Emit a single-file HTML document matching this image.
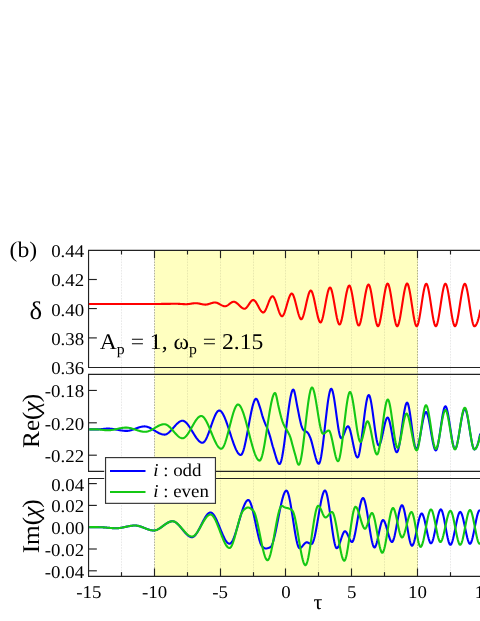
<!DOCTYPE html><html><head><meta charset="utf-8"><style>html,body{margin:0;padding:0;background:#fff;overflow:hidden}svg{display:block}text{font-family:"Liberation Serif",serif;fill:#000;text-rendering:geometricPrecision}</style></head><body>
<svg width="480" height="621" viewBox="0 0 480 621">
<rect x="0" y="0" width="480" height="621" fill="#fff"/>
<rect x="154.6" y="250.3" width="263.3" height="326.1" fill="#ffffc0"/>
<line x1="121.5" y1="250.3" x2="121.5" y2="576.35" stroke="#000" stroke-opacity="0.085" stroke-width="1" stroke-dasharray="1.7,1.1"/>
<line x1="154.5" y1="250.3" x2="154.5" y2="576.35" stroke="#000" stroke-opacity="0.3" stroke-width="1" stroke-dasharray="1.7,1.1"/>
<line x1="187.5" y1="250.3" x2="187.5" y2="576.35" stroke="#000" stroke-opacity="0.085" stroke-width="1" stroke-dasharray="1.7,1.1"/>
<line x1="220.5" y1="250.3" x2="220.5" y2="576.35" stroke="#000" stroke-opacity="0.085" stroke-width="1" stroke-dasharray="1.7,1.1"/>
<line x1="253.5" y1="250.3" x2="253.5" y2="576.35" stroke="#000" stroke-opacity="0.085" stroke-width="1" stroke-dasharray="1.7,1.1"/>
<line x1="285.5" y1="250.3" x2="285.5" y2="576.35" stroke="#000" stroke-opacity="0.085" stroke-width="1" stroke-dasharray="1.7,1.1"/>
<line x1="318.5" y1="250.3" x2="318.5" y2="576.35" stroke="#000" stroke-opacity="0.085" stroke-width="1" stroke-dasharray="1.7,1.1"/>
<line x1="351.5" y1="250.3" x2="351.5" y2="576.35" stroke="#000" stroke-opacity="0.085" stroke-width="1" stroke-dasharray="1.7,1.1"/>
<line x1="384.5" y1="250.3" x2="384.5" y2="576.35" stroke="#000" stroke-opacity="0.085" stroke-width="1" stroke-dasharray="1.7,1.1"/>
<line x1="417.5" y1="250.3" x2="417.5" y2="576.35" stroke="#000" stroke-opacity="0.3" stroke-width="1" stroke-dasharray="1.7,1.1"/>
<line x1="450.5" y1="250.3" x2="450.5" y2="576.35" stroke="#000" stroke-opacity="0.085" stroke-width="1" stroke-dasharray="1.7,1.1"/>
<g stroke="#222" stroke-width="1.15" fill="none">
<path d="M482,250.3 L88.55,250.3 L88.55,367.5 L482,367.5"/>
<path d="M482,374.35 L88.55,374.35 L88.55,471.4 L482,471.4"/>
<path d="M482,478.5 L88.55,478.5 L88.55,576.35 L482,576.35"/>
<line x1="88.55" y1="279.5" x2="96.85" y2="279.5"/>
<line x1="88.55" y1="308.55" x2="96.85" y2="308.55"/>
<line x1="88.55" y1="337.9" x2="96.85" y2="337.9"/>
<line x1="88.55" y1="390.45" x2="96.85" y2="390.45"/>
<line x1="88.55" y1="422.8" x2="96.85" y2="422.8"/>
<line x1="88.55" y1="455.2" x2="96.85" y2="455.2"/>
<line x1="88.55" y1="483.6" x2="96.85" y2="483.6"/>
<line x1="88.55" y1="505.4" x2="96.85" y2="505.4"/>
<line x1="88.55" y1="527.2" x2="96.85" y2="527.2"/>
<line x1="88.55" y1="549.0" x2="96.85" y2="549.0"/>
<line x1="88.55" y1="570.8" x2="96.85" y2="570.8"/>
<line x1="121.5" y1="250.3" x2="121.5" y2="254.5"/>
<line x1="121.5" y1="576.35" x2="121.5" y2="572.15"/>
<line x1="154.5" y1="250.3" x2="154.5" y2="258.2"/>
<line x1="154.5" y1="576.35" x2="154.5" y2="568.45"/>
<line x1="187.5" y1="250.3" x2="187.5" y2="254.5"/>
<line x1="187.5" y1="576.35" x2="187.5" y2="572.15"/>
<line x1="220.5" y1="250.3" x2="220.5" y2="258.2"/>
<line x1="220.5" y1="576.35" x2="220.5" y2="568.45"/>
<line x1="253.5" y1="250.3" x2="253.5" y2="254.5"/>
<line x1="253.5" y1="576.35" x2="253.5" y2="572.15"/>
<line x1="285.5" y1="250.3" x2="285.5" y2="258.2"/>
<line x1="285.5" y1="576.35" x2="285.5" y2="568.45"/>
<line x1="318.5" y1="250.3" x2="318.5" y2="254.5"/>
<line x1="318.5" y1="576.35" x2="318.5" y2="572.15"/>
<line x1="351.5" y1="250.3" x2="351.5" y2="258.2"/>
<line x1="351.5" y1="576.35" x2="351.5" y2="568.45"/>
<line x1="384.5" y1="250.3" x2="384.5" y2="254.5"/>
<line x1="384.5" y1="576.35" x2="384.5" y2="572.15"/>
<line x1="417.5" y1="250.3" x2="417.5" y2="258.2"/>
<line x1="417.5" y1="576.35" x2="417.5" y2="568.45"/>
<line x1="450.5" y1="250.3" x2="450.5" y2="254.5"/>
<line x1="450.5" y1="576.35" x2="450.5" y2="572.15"/>
</g>
<g fill="none" stroke-width="2.1" stroke-linejoin="round" stroke-linecap="butt">
<path d="M88.9,304.00 L89.4,304.00 L89.9,304.00 L90.4,304.00 L90.9,304.00 L91.4,304.00 L91.9,304.00 L92.4,304.00 L92.9,304.00 L93.4,304.00 L93.9,304.00 L94.4,304.00 L94.9,304.00 L95.4,304.00 L95.9,304.00 L96.4,304.00 L96.9,304.00 L97.4,304.00 L97.9,304.00 L98.4,304.00 L98.9,304.00 L99.4,304.00 L99.9,304.00 L100.4,304.00 L100.9,304.00 L101.4,304.00 L101.9,304.00 L102.4,304.00 L102.9,304.00 L103.4,304.00 L103.9,304.00 L104.4,304.00 L104.9,304.00 L105.4,304.00 L105.9,304.00 L106.4,304.00 L106.9,304.00 L107.4,304.00 L107.9,304.00 L108.4,304.00 L108.9,304.00 L109.4,304.00 L109.9,304.00 L110.4,304.00 L110.9,304.00 L111.4,304.00 L111.9,304.00 L112.4,304.00 L112.9,304.00 L113.4,304.00 L113.9,304.00 L114.4,304.00 L114.9,304.00 L115.4,304.00 L115.9,304.00 L116.4,304.00 L116.9,304.00 L117.4,304.00 L117.9,304.00 L118.4,304.00 L118.9,304.00 L119.4,304.00 L119.9,304.00 L120.4,304.00 L120.9,304.00 L121.4,304.00 L121.9,304.00 L122.4,304.00 L122.9,304.00 L123.4,304.00 L123.9,304.00 L124.4,304.00 L124.9,304.00 L125.4,304.00 L125.9,304.00 L126.4,304.00 L126.9,304.00 L127.4,304.00 L127.9,304.00 L128.4,304.00 L128.9,304.00 L129.4,304.00 L129.9,304.00 L130.4,304.00 L130.9,304.00 L131.4,304.00 L131.9,304.00 L132.4,304.00 L132.9,304.00 L133.4,304.00 L133.9,304.00 L134.4,304.00 L134.9,304.00 L135.4,304.00 L135.9,304.00 L136.4,304.00 L136.9,304.00 L137.4,304.00 L137.9,304.00 L138.4,304.00 L138.9,304.00 L139.4,304.00 L139.9,304.00 L140.4,304.00 L140.9,304.00 L141.4,304.00 L141.9,304.00 L142.4,304.00 L142.9,304.00 L143.4,304.00 L143.9,304.00 L144.4,304.00 L144.9,304.00 L145.4,304.00 L145.9,304.00 L146.4,304.00 L146.9,304.00 L147.4,304.00 L147.9,304.00 L148.4,304.00 L148.9,304.00 L149.4,304.00 L149.9,304.00 L150.4,304.00 L150.9,304.00 L151.4,304.00 L151.9,304.00 L152.4,304.00 L152.9,303.99 L153.4,303.99 L153.9,303.99 L154.4,303.99 L154.9,303.98 L155.4,303.98 L155.9,303.97 L156.4,303.97 L156.9,303.97 L157.4,303.96 L157.9,303.96 L158.4,303.95 L158.9,303.95 L159.4,303.94 L159.9,303.94 L160.4,303.93 L160.9,303.93 L161.4,303.92 L161.9,303.92 L162.4,303.91 L162.9,303.90 L163.4,303.90 L163.9,303.89 L164.4,303.89 L164.9,303.88 L165.4,303.88 L165.9,303.87 L166.4,303.87 L166.9,303.86 L167.4,303.85 L167.9,303.85 L168.4,303.84 L168.9,303.84 L169.4,303.84 L169.9,303.83 L170.4,303.83 L170.9,303.82 L171.4,303.82 L171.9,303.82 L172.4,303.81 L172.9,303.81 L173.4,303.81 L173.9,303.81 L174.4,303.80 L174.9,303.80 L175.4,303.80 L175.9,303.80 L176.4,303.80 L176.9,303.80 L177.4,303.81 L177.9,303.82 L178.4,303.84 L178.9,303.86 L179.4,303.89 L179.9,303.92 L180.4,303.95 L180.9,303.98 L181.4,304.01 L181.9,304.04 L182.4,304.07 L182.9,304.10 L183.4,304.13 L183.9,304.15 L184.4,304.17 L184.9,304.19 L185.4,304.20 L185.9,304.20 L186.4,304.20 L186.9,304.18 L187.4,304.14 L187.9,304.10 L188.4,304.05 L188.9,303.99 L189.4,303.92 L189.9,303.85 L190.4,303.77 L190.9,303.70 L191.4,303.62 L191.9,303.54 L192.4,303.47 L192.9,303.41 L193.4,303.35 L193.9,303.29 L194.4,303.25 L194.9,303.22 L195.4,303.20 L195.9,303.20 L196.4,303.22 L196.9,303.25 L197.4,303.31 L197.9,303.37 L198.4,303.45 L198.9,303.54 L199.4,303.64 L199.9,303.74 L200.4,303.85 L200.9,303.96 L201.4,304.07 L201.9,304.17 L202.4,304.27 L202.9,304.35 L203.4,304.43 L203.9,304.50 L204.4,304.55 L204.9,304.58 L205.4,304.60 L205.9,304.59 L206.4,304.55 L206.9,304.48 L207.4,304.38 L207.9,304.27 L208.4,304.13 L208.9,303.99 L209.4,303.83 L209.9,303.67 L210.4,303.50 L210.9,303.34 L211.4,303.18 L211.9,303.02 L212.4,302.89 L212.9,302.76 L213.4,302.66 L213.9,302.58 L214.4,302.52 L214.9,302.50 L215.4,302.52 L215.9,302.59 L216.4,302.70 L216.9,302.85 L217.4,303.04 L217.9,303.26 L218.4,303.51 L218.9,303.77 L219.4,304.04 L219.9,304.32 L220.4,304.60 L220.9,304.88 L221.4,305.14 L221.9,305.39 L222.4,305.62 L222.9,305.82 L223.4,305.99 L223.9,306.12 L224.4,306.21 L224.9,306.25 L225.4,306.22 L225.9,306.12 L226.4,305.94 L226.9,305.71 L227.4,305.42 L227.9,305.09 L228.4,304.74 L228.9,304.36 L229.4,303.98 L229.9,303.60 L230.4,303.22 L230.9,302.87 L231.4,302.55 L231.9,302.27 L232.4,302.04 L232.9,301.87 L233.4,301.77 L233.9,301.75 L234.4,301.82 L234.9,301.97 L235.4,302.19 L235.9,302.48 L236.4,302.82 L236.9,303.20 L237.4,303.62 L237.9,304.07 L238.4,304.55 L238.9,305.03 L239.4,305.52 L239.9,306.00 L240.4,306.47 L240.9,306.92 L241.4,307.34 L241.9,307.72 L242.4,308.05 L242.9,308.33 L243.4,308.55 L243.9,308.69 L244.4,308.75 L244.9,308.70 L245.4,308.49 L245.9,308.15 L246.4,307.69 L246.9,307.14 L247.4,306.50 L247.9,305.81 L248.4,305.08 L248.9,304.34 L249.4,303.59 L249.9,302.87 L250.4,302.18 L250.9,301.55 L251.4,301.01 L251.9,300.56 L252.4,300.23 L252.9,300.04 L253.4,300.01 L253.9,300.15 L254.4,300.46 L254.9,300.91 L255.4,301.48 L255.9,302.17 L256.4,302.94 L256.9,303.78 L257.4,304.67 L257.9,305.59 L258.4,306.53 L258.9,307.46 L259.4,308.37 L259.9,309.23 L260.4,310.03 L260.9,310.75 L261.4,311.37 L261.9,311.88 L262.4,312.24 L262.9,312.46 L263.4,312.49 L263.9,312.27 L264.4,311.81 L264.9,311.13 L265.4,310.27 L265.9,309.26 L266.4,308.13 L266.9,306.91 L267.4,305.62 L267.9,304.31 L268.4,303.00 L268.9,301.72 L269.4,300.50 L269.9,299.38 L270.4,298.38 L270.9,297.54 L271.4,296.88 L271.9,296.45 L272.4,296.26 L272.9,296.35 L273.4,296.75 L273.9,297.43 L274.4,298.33 L274.9,299.43 L275.4,300.70 L275.9,302.10 L276.4,303.59 L276.9,305.15 L277.4,306.72 L277.9,308.29 L278.4,309.81 L278.9,311.25 L279.4,312.58 L279.9,313.75 L280.4,314.74 L280.9,315.51 L281.4,316.02 L281.9,316.24 L282.4,316.14 L282.9,315.70 L283.4,314.98 L283.9,313.99 L284.4,312.79 L284.9,311.41 L285.4,309.88 L285.9,308.24 L286.4,306.53 L286.9,304.79 L287.4,303.04 L287.9,301.34 L288.4,299.71 L288.9,298.20 L289.4,296.83 L289.9,295.65 L290.4,294.69 L290.9,293.99 L291.4,293.59 L291.9,293.52 L292.4,293.85 L292.9,294.54 L293.4,295.56 L293.9,296.86 L294.4,298.39 L294.9,300.12 L295.4,301.98 L295.9,303.95 L296.4,305.97 L296.9,308.00 L297.4,309.99 L297.9,311.90 L298.4,313.69 L298.9,315.30 L299.4,316.70 L299.9,317.84 L300.4,318.67 L300.9,319.15 L301.4,319.23 L301.9,318.86 L302.4,318.09 L302.9,316.95 L303.4,315.50 L303.9,313.79 L304.4,311.86 L304.9,309.78 L305.4,307.58 L305.9,305.33 L306.4,303.06 L306.9,300.84 L307.4,298.70 L307.9,296.71 L308.4,294.91 L308.9,293.35 L309.4,292.08 L309.9,291.15 L310.4,290.61 L310.9,290.52 L311.4,290.91 L311.9,291.73 L312.4,292.94 L312.9,294.48 L313.4,296.31 L313.9,298.36 L314.4,300.60 L314.9,302.96 L315.4,305.39 L315.9,307.85 L316.4,310.28 L316.9,312.63 L317.4,314.85 L317.9,316.89 L318.4,318.69 L318.9,320.20 L319.4,321.37 L319.9,322.15 L320.4,322.49 L320.9,322.32 L321.4,321.62 L321.9,320.44 L322.4,318.86 L322.9,316.93 L323.4,314.71 L323.9,312.26 L324.4,309.65 L324.9,306.93 L325.4,304.17 L325.9,301.43 L326.4,298.77 L326.9,296.25 L327.4,293.93 L327.9,291.87 L328.4,290.14 L328.9,288.80 L329.4,287.90 L329.9,287.51 L330.4,287.69 L330.9,288.43 L331.4,289.67 L331.9,291.35 L332.4,293.39 L332.9,295.74 L333.4,298.33 L333.9,301.09 L334.4,303.96 L334.9,306.88 L335.4,309.77 L335.9,312.59 L336.4,315.25 L336.9,317.70 L337.4,319.88 L337.9,321.70 L338.4,323.13 L338.9,324.08 L339.4,324.49 L339.9,324.31 L340.4,323.56 L340.9,322.32 L341.4,320.63 L341.9,318.57 L342.4,316.20 L342.9,313.58 L343.4,310.77 L343.9,307.84 L344.4,304.85 L344.9,301.86 L345.4,298.94 L345.9,296.15 L346.4,293.55 L346.9,291.20 L347.4,289.18 L347.9,287.54 L348.4,286.34 L348.9,285.65 L349.4,285.53 L349.9,286.04 L350.4,287.12 L350.9,288.70 L351.4,290.72 L351.9,293.10 L352.4,295.78 L352.9,298.68 L353.4,301.73 L353.9,304.87 L354.4,308.02 L354.9,311.12 L355.4,314.09 L355.9,316.86 L356.4,319.37 L356.9,321.54 L357.4,323.31 L357.9,324.60 L358.4,325.34 L358.9,325.47 L359.4,324.98 L359.9,323.92 L360.4,322.37 L360.9,320.40 L361.4,318.06 L361.9,315.43 L362.4,312.56 L362.9,309.54 L363.4,306.42 L363.9,303.27 L364.4,300.15 L364.9,297.14 L365.4,294.30 L365.9,291.69 L366.4,289.39 L366.9,287.45 L367.4,285.95 L367.9,284.95 L368.4,284.51 L368.9,284.72 L369.4,285.55 L369.9,286.95 L370.4,288.84 L370.9,291.15 L371.4,293.80 L371.9,296.72 L372.4,299.83 L372.9,303.07 L373.4,306.36 L373.9,309.63 L374.4,312.81 L374.9,315.81 L375.4,318.58 L375.9,321.03 L376.4,323.10 L376.9,324.70 L377.4,325.77 L377.9,326.24 L378.4,326.03 L378.9,325.20 L379.4,323.79 L379.9,321.90 L380.4,319.59 L380.9,316.93 L381.4,313.99 L381.9,310.85 L382.4,307.58 L382.9,304.26 L383.4,300.95 L383.9,297.72 L384.4,294.66 L384.9,291.82 L385.4,289.29 L385.9,287.14 L386.4,285.43 L386.9,284.25 L387.4,283.65 L387.9,283.72 L388.4,284.44 L388.9,285.73 L389.4,287.54 L389.9,289.77 L390.4,292.37 L390.9,295.25 L391.4,298.36 L391.9,301.61 L392.4,304.92 L392.9,308.24 L393.4,311.49 L393.9,314.60 L394.4,317.48 L394.9,320.08 L395.4,322.31 L395.9,324.12 L396.4,325.41 L396.9,326.13 L397.4,326.20 L397.9,325.64 L398.4,324.52 L398.9,322.90 L399.4,320.85 L399.9,318.45 L400.4,315.74 L400.9,312.80 L401.4,309.70 L401.9,306.49 L402.4,303.26 L402.9,300.05 L403.4,296.95 L403.9,294.01 L404.4,291.30 L404.9,288.90 L405.4,286.85 L405.9,285.23 L406.4,284.11 L406.9,283.55 L407.4,283.62 L407.9,284.34 L408.4,285.64 L408.9,287.45 L409.4,289.69 L409.9,292.29 L410.4,295.18 L410.9,298.29 L411.4,301.55 L411.9,304.87 L412.4,308.20 L412.9,311.46 L413.4,314.57 L413.9,317.46 L414.4,320.06 L414.9,322.30 L415.4,324.11 L415.9,325.41 L416.4,326.13 L416.9,326.19 L417.4,325.60 L417.9,324.41 L418.4,322.69 L418.9,320.52 L419.4,317.98 L419.9,315.13 L420.4,312.05 L420.9,308.82 L421.4,305.50 L421.9,302.17 L422.4,298.90 L422.9,295.77 L423.4,292.85 L423.9,290.20 L424.4,287.92 L424.9,286.06 L425.4,284.70 L425.9,283.92 L426.4,283.78 L426.9,284.31 L427.4,285.45 L427.9,287.12 L428.4,289.24 L428.9,291.75 L429.4,294.57 L429.9,297.63 L430.4,300.85 L430.9,304.17 L431.4,307.50 L431.9,310.78 L432.4,313.92 L432.9,316.87 L433.4,319.55 L433.9,321.87 L434.4,323.78 L434.9,325.19 L435.4,326.03 L435.9,326.24 L436.4,325.77 L436.9,324.70 L437.4,323.10 L437.9,321.04 L438.4,318.59 L438.9,315.82 L439.4,312.80 L439.9,309.62 L440.4,306.33 L440.9,303.01 L441.4,299.74 L441.9,296.58 L442.4,293.61 L442.9,290.90 L443.4,288.52 L443.9,286.54 L444.4,285.04 L444.9,284.08 L445.4,283.75 L445.9,284.08 L446.4,285.04 L446.9,286.54 L447.4,288.52 L447.9,290.90 L448.4,293.61 L448.9,296.58 L449.4,299.74 L449.9,303.01 L450.4,306.33 L450.9,309.62 L451.4,312.80 L451.9,315.82 L452.4,318.59 L452.9,321.04 L453.4,323.10 L453.9,324.70 L454.4,325.77 L454.9,326.24 L455.4,326.04 L455.9,325.24 L456.4,323.90 L456.9,322.08 L457.4,319.85 L457.9,317.29 L458.4,314.45 L458.9,311.41 L459.4,308.24 L459.9,305.00 L460.4,301.76 L460.9,298.59 L461.4,295.55 L461.9,292.71 L462.4,290.15 L462.9,287.92 L463.4,286.10 L463.9,284.76 L464.4,283.96 L464.9,283.76 L465.4,284.23 L465.9,285.30 L466.4,286.90 L466.9,288.96 L467.4,291.41 L467.9,294.18 L468.4,297.20 L468.9,300.38 L469.4,303.67 L469.9,306.99 L470.4,310.26 L470.9,313.42 L471.4,316.39 L471.9,319.10 L472.4,321.48 L472.9,323.46 L473.4,324.96 L473.9,325.92 L474.4,326.25 L474.9,326.13 L475.4,325.79 L475.9,325.21 L476.4,324.41 L476.9,323.37 L477.4,322.10 L477.9,320.60 L478.4,318.87 L478.9,316.91 L479.4,314.72 L479.9,312.30 L480.4,309.65" stroke="#ff0000"/>
<path d="M89.2,429.40 L89.7,429.40 L90.2,429.40 L90.7,429.40 L91.2,429.40 L91.7,429.40 L92.2,429.40 L92.7,429.40 L93.2,429.40 L93.7,429.40 L94.2,429.40 L94.7,429.40 L95.2,429.40 L95.7,429.40 L96.2,429.40 L96.7,429.40 L97.2,429.40 L97.7,429.39 L98.2,429.37 L98.7,429.35 L99.2,429.32 L99.7,429.28 L100.2,429.24 L100.7,429.19 L101.2,429.14 L101.7,429.09 L102.2,429.03 L102.7,428.98 L103.2,428.92 L103.7,428.87 L104.2,428.82 L104.7,428.77 L105.2,428.73 L105.7,428.69 L106.2,428.66 L106.7,428.63 L107.2,428.61 L107.7,428.60 L108.2,428.60 L108.7,428.61 L109.2,428.63 L109.7,428.65 L110.2,428.69 L110.7,428.73 L111.2,428.78 L111.7,428.84 L112.2,428.90 L112.7,428.97 L113.2,429.04 L113.7,429.12 L114.2,429.20 L114.7,429.29 L115.2,429.37 L115.7,429.46 L116.2,429.56 L116.7,429.65 L117.2,429.74 L117.7,429.83 L118.2,429.93 L118.7,430.02 L119.2,430.11 L119.7,430.20 L120.2,430.28 L120.7,430.36 L121.2,430.44 L121.7,430.52 L122.2,430.58 L122.7,430.65 L123.2,430.71 L123.7,430.76 L124.2,430.80 L124.7,430.84 L125.2,430.87 L125.7,430.89 L126.2,430.90 L126.7,430.90 L127.2,430.88 L127.7,430.84 L128.2,430.79 L128.7,430.71 L129.2,430.63 L129.7,430.52 L130.2,430.41 L130.7,430.28 L131.2,430.14 L131.7,429.99 L132.2,429.83 L132.7,429.67 L133.2,429.49 L133.7,429.32 L134.2,429.13 L134.7,428.95 L135.2,428.76 L135.7,428.58 L136.2,428.39 L136.7,428.20 L137.2,428.02 L137.7,427.84 L138.2,427.67 L138.7,427.50 L139.2,427.34 L139.7,427.19 L140.2,427.05 L140.7,426.92 L141.2,426.80 L141.7,426.69 L142.2,426.60 L142.7,426.53 L143.2,426.47 L143.7,426.43 L144.2,426.40 L144.7,426.40 L145.2,426.43 L145.7,426.49 L146.2,426.57 L146.7,426.68 L147.2,426.81 L147.7,426.97 L148.2,427.15 L148.7,427.34 L149.2,427.56 L149.7,427.79 L150.2,428.03 L150.7,428.29 L151.2,428.56 L151.7,428.84 L152.2,429.13 L152.7,429.43 L153.2,429.73 L153.7,430.04 L154.2,430.35 L154.7,430.65 L155.2,430.96 L155.7,431.27 L156.2,431.57 L156.7,431.87 L157.2,432.16 L157.7,432.44 L158.2,432.71 L158.7,432.97 L159.2,433.21 L159.7,433.44 L160.2,433.66 L160.7,433.85 L161.2,434.03 L161.7,434.19 L162.2,434.32 L162.7,434.43 L163.2,434.51 L163.7,434.57 L164.2,434.60 L164.7,434.59 L165.2,434.52 L165.7,434.40 L166.2,434.22 L166.7,433.99 L167.2,433.71 L167.7,433.39 L168.2,433.02 L168.7,432.63 L169.2,432.19 L169.7,431.73 L170.2,431.24 L170.7,430.73 L171.2,430.20 L171.7,429.66 L172.2,429.10 L172.7,428.53 L173.2,427.96 L173.7,427.39 L174.2,426.82 L174.7,426.25 L175.2,425.69 L175.7,425.15 L176.2,424.62 L176.7,424.11 L177.2,423.62 L177.7,423.16 L178.2,422.72 L178.7,422.33 L179.2,421.96 L179.7,421.64 L180.2,421.36 L180.7,421.13 L181.2,420.95 L181.7,420.83 L182.2,420.76 L182.7,420.76 L183.2,420.83 L183.7,420.98 L184.2,421.20 L184.7,421.49 L185.2,421.84 L185.7,422.26 L186.2,422.73 L186.7,423.25 L187.2,423.82 L187.7,424.44 L188.2,425.09 L188.7,425.78 L189.2,426.50 L189.7,427.25 L190.2,428.02 L190.7,428.81 L191.2,429.62 L191.7,430.43 L192.2,431.26 L192.7,432.08 L193.2,432.90 L193.7,433.72 L194.2,434.53 L194.7,435.32 L195.2,436.10 L195.7,436.85 L196.2,437.58 L196.7,438.27 L197.2,438.93 L197.7,439.56 L198.2,440.14 L198.7,440.67 L199.2,441.15 L199.7,441.58 L200.2,441.94 L200.7,442.25 L201.2,442.48 L201.7,442.65 L202.2,442.74 L202.7,442.74 L203.2,442.59 L203.7,442.28 L204.2,441.82 L204.7,441.23 L205.2,440.51 L205.7,439.67 L206.2,438.72 L206.7,437.68 L207.2,436.56 L207.7,435.36 L208.2,434.09 L208.7,432.77 L209.2,431.40 L209.7,430.00 L210.2,428.57 L210.7,427.13 L211.2,425.69 L211.7,424.25 L212.2,422.83 L212.7,421.44 L213.2,420.08 L213.7,418.78 L214.2,417.53 L214.7,416.35 L215.2,415.24 L215.7,414.23 L216.2,413.32 L216.7,412.51 L217.2,411.83 L217.7,411.28 L218.2,410.86 L218.7,410.60 L219.2,410.50 L219.7,410.56 L220.2,410.75 L220.7,411.08 L221.2,411.53 L221.7,412.10 L222.2,412.78 L222.7,413.57 L223.2,414.45 L223.7,415.43 L224.2,416.49 L224.7,417.63 L225.2,418.84 L225.7,420.11 L226.2,421.44 L226.7,422.83 L227.2,424.25 L227.7,425.72 L228.2,427.21 L228.7,428.73 L229.2,430.27 L229.7,431.82 L230.2,433.37 L230.7,434.92 L231.2,436.46 L231.7,437.98 L232.2,439.48 L232.7,440.96 L233.2,442.39 L233.7,443.78 L234.2,445.13 L234.7,446.41 L235.2,447.64 L235.7,448.79 L236.2,449.86 L236.7,450.86 L237.2,451.76 L237.7,452.57 L238.2,453.27 L238.7,453.86 L239.2,454.34 L239.7,454.69 L240.2,454.91 L240.7,455.00 L241.2,454.86 L241.7,454.38 L242.2,453.59 L242.7,452.51 L243.2,451.16 L243.7,449.57 L244.2,447.75 L244.7,445.74 L245.2,443.56 L245.7,441.22 L246.2,438.76 L246.7,436.20 L247.2,433.55 L247.7,430.85 L248.2,428.11 L248.7,425.36 L249.2,422.63 L249.7,419.93 L250.2,417.29 L250.7,414.74 L251.2,412.29 L251.7,409.97 L252.2,407.80 L252.7,405.81 L253.2,404.01 L253.7,402.45 L254.2,401.12 L254.7,400.07 L255.2,399.31 L255.7,398.86 L256.2,398.76 L256.7,399.09 L257.2,399.83 L257.7,400.88 L258.2,402.18 L258.7,403.63 L259.2,405.14 L259.7,406.64 L260.2,408.08 L260.7,409.75 L261.2,411.59 L261.7,413.48 L262.2,415.28 L262.7,416.86 L263.2,418.33 L263.7,419.73 L264.2,421.06 L264.7,422.35 L265.2,423.58 L265.7,424.72 L266.2,425.79 L266.7,426.86 L267.2,428.01 L267.7,429.27 L268.2,430.66 L268.7,432.13 L269.2,433.68 L269.7,435.27 L270.2,436.92 L270.7,438.71 L271.2,440.60 L271.7,442.53 L272.2,444.42 L272.7,446.20 L273.2,447.81 L273.7,449.42 L274.2,451.11 L274.7,452.85 L275.2,454.58 L275.7,456.28 L276.2,457.90 L276.7,459.41 L277.2,460.77 L277.7,461.94 L278.2,462.88 L278.7,463.56 L279.2,463.94 L279.7,463.95 L280.2,463.44 L280.7,462.40 L281.2,460.87 L281.7,458.89 L282.2,456.51 L282.7,453.77 L283.2,450.72 L283.7,447.39 L284.2,443.84 L284.7,440.09 L285.2,436.21 L285.7,432.22 L286.2,428.17 L286.7,424.11 L287.2,420.08 L287.7,416.11 L288.2,412.27 L288.7,408.57 L289.2,405.08 L289.7,401.83 L290.2,398.87 L290.7,396.24 L291.2,393.97 L291.7,392.13 L292.2,390.74 L292.7,389.85 L293.2,389.50 L293.7,389.87 L294.2,391.03 L294.7,392.85 L295.2,395.15 L295.7,397.79 L296.2,400.58 L296.7,403.39 L297.2,406.05 L297.7,408.45 L298.2,410.96 L298.7,413.59 L299.2,416.20 L299.7,418.65 L300.2,420.86 L300.7,423.02 L301.2,425.02 L301.7,426.68 L302.2,427.89 L302.7,428.94 L303.2,429.78 L303.7,430.36 L304.2,430.69 L304.7,430.93 L305.2,431.11 L305.7,431.31 L306.2,431.57 L306.7,431.91 L307.2,432.33 L307.7,432.83 L308.2,433.43 L308.7,434.23 L309.2,435.22 L309.7,436.32 L310.2,437.48 L310.7,438.83 L311.2,440.40 L311.7,442.14 L312.2,444.02 L312.7,446.00 L313.2,448.04 L313.7,450.10 L314.2,452.15 L314.7,454.15 L315.2,456.06 L315.7,457.84 L316.2,459.45 L316.7,460.87 L317.2,462.04 L317.7,462.94 L318.2,463.52 L318.7,463.75 L319.2,463.47 L319.7,462.52 L320.2,460.96 L320.7,458.84 L321.2,456.24 L321.7,453.19 L322.2,449.76 L322.7,446.02 L323.2,442.00 L323.7,437.78 L324.2,433.41 L324.7,428.95 L325.2,424.45 L325.7,419.98 L326.2,415.58 L326.7,411.33 L327.2,407.27 L327.7,403.46 L328.2,399.97 L328.7,396.84 L329.2,394.14 L329.7,391.92 L330.2,390.25 L330.7,389.17 L331.2,388.75 L331.7,389.04 L332.2,390.01 L332.7,391.57 L333.2,393.66 L333.7,396.21 L334.2,399.13 L334.7,402.36 L335.2,405.82 L335.7,409.43 L336.2,413.13 L336.7,416.83 L337.2,420.47 L337.7,423.96 L338.2,427.24 L338.7,430.24 L339.2,432.86 L339.7,435.05 L340.2,436.73 L340.7,437.82 L341.2,438.25 L341.7,438.10 L342.2,437.60 L342.7,436.83 L343.2,435.82 L343.7,434.65 L344.2,433.38 L344.7,432.05 L345.2,430.73 L345.7,429.48 L346.2,428.35 L346.7,427.41 L347.2,426.72 L347.7,426.32 L348.2,426.29 L348.7,426.73 L349.2,427.62 L349.7,428.89 L350.2,430.50 L350.7,432.39 L351.2,434.50 L351.7,436.78 L352.2,439.17 L352.7,441.63 L353.2,444.09 L353.7,446.50 L354.2,448.81 L354.7,450.96 L355.2,452.89 L355.7,454.56 L356.2,455.90 L356.7,456.87 L357.2,457.41 L357.7,457.44 L358.2,456.80 L358.7,455.52 L359.2,453.65 L359.7,451.26 L360.2,448.43 L360.7,445.21 L361.2,441.67 L361.7,437.87 L362.2,433.89 L362.7,429.78 L363.2,425.63 L363.7,421.48 L364.2,417.40 L364.7,413.47 L365.2,409.74 L365.7,406.29 L366.2,403.18 L366.7,400.47 L367.2,398.23 L367.7,396.53 L368.2,395.43 L368.7,395.00 L369.2,395.30 L369.7,396.28 L370.2,397.88 L370.7,400.01 L371.2,402.61 L371.7,405.59 L372.2,408.88 L372.7,412.41 L373.2,416.10 L373.7,419.87 L374.2,423.65 L374.7,427.36 L375.2,430.93 L375.7,434.27 L376.2,437.32 L376.7,440.00 L377.2,442.24 L377.7,443.95 L378.2,445.06 L378.7,445.50 L379.2,445.29 L379.7,444.60 L380.2,443.49 L380.7,442.02 L381.2,440.25 L381.7,438.24 L382.2,436.05 L382.7,433.75 L383.2,431.38 L383.7,429.02 L384.2,426.72 L384.7,424.55 L385.2,422.56 L385.7,420.82 L386.2,419.38 L386.7,418.31 L387.2,417.67 L387.7,417.51 L388.2,417.92 L388.7,418.87 L389.2,420.29 L389.7,422.11 L390.2,424.27 L390.7,426.69 L391.2,429.32 L391.7,432.07 L392.2,434.90 L392.7,437.73 L393.2,440.48 L393.7,443.11 L394.2,445.53 L394.7,447.69 L395.2,449.51 L395.7,450.93 L396.2,451.88 L396.7,452.29 L397.2,452.08 L397.7,451.23 L398.2,449.80 L398.7,447.85 L399.2,445.46 L399.7,442.70 L400.2,439.63 L400.7,436.32 L401.2,432.84 L401.7,429.26 L402.2,425.64 L402.7,422.06 L403.2,418.58 L403.7,415.27 L404.2,412.20 L404.7,409.44 L405.2,407.05 L405.7,405.10 L406.2,403.67 L406.7,402.82 L407.2,402.62 L407.7,403.17 L408.2,404.45 L408.7,406.36 L409.2,408.81 L409.7,411.71 L410.2,414.97 L410.7,418.50 L411.2,422.20 L411.7,425.99 L412.2,429.78 L412.7,433.47 L413.2,436.97 L413.7,440.20 L414.2,443.06 L414.7,445.46 L415.2,447.31 L415.7,448.52 L416.2,449.00 L416.7,448.77 L417.2,448.01 L417.7,446.79 L418.2,445.15 L418.7,443.17 L419.2,440.89 L419.7,438.38 L420.2,435.70 L420.7,432.91 L421.2,430.07 L421.7,427.24 L422.2,424.48 L422.7,421.85 L423.2,419.40 L423.7,417.21 L424.2,415.32 L424.7,413.80 L425.2,412.71 L425.7,412.10 L426.2,412.05 L426.7,412.56 L427.2,413.59 L427.7,415.07 L428.2,416.94 L428.7,419.14 L429.2,421.61 L429.7,424.29 L430.2,427.11 L430.7,430.03 L431.2,432.96 L431.7,435.86 L432.2,438.66 L432.7,441.30 L433.2,443.73 L433.7,445.87 L434.2,447.66 L434.7,449.06 L435.2,449.99 L435.7,450.39 L436.2,450.18 L436.7,449.31 L437.2,447.86 L437.7,445.90 L438.2,443.50 L438.7,440.75 L439.2,437.71 L439.7,434.46 L440.2,431.08 L440.7,427.64 L441.2,424.21 L441.7,420.87 L442.2,417.70 L442.7,414.76 L443.2,412.14 L443.7,409.91 L444.2,408.15 L444.7,406.92 L445.2,406.31 L445.7,406.37 L446.2,407.09 L446.7,408.39 L447.2,410.20 L447.7,412.44 L448.2,415.04 L448.7,417.93 L449.2,421.04 L449.7,424.30 L450.2,427.62 L450.7,430.95 L451.2,434.21 L451.7,437.32 L452.2,440.21 L452.7,442.81 L453.2,445.05 L453.7,446.86 L454.2,448.16 L454.7,448.88 L455.2,448.95 L455.7,448.41 L456.2,447.34 L456.7,445.79 L457.2,443.83 L457.7,441.52 L458.2,438.93 L458.7,436.12 L459.2,433.16 L459.7,430.11 L460.2,427.03 L460.7,423.99 L461.2,421.05 L461.7,418.28 L462.2,415.75 L462.7,413.50 L463.2,411.62 L463.7,410.16 L464.2,409.18 L464.7,408.76 L465.2,408.96 L465.7,409.75 L466.2,411.09 L466.7,412.90 L467.2,415.10 L467.7,417.64 L468.2,420.43 L468.7,423.43 L469.2,426.54 L469.7,429.71 L470.2,432.87 L470.7,435.94 L471.2,438.86 L471.7,441.56 L472.2,443.97 L472.7,446.03 L473.2,447.65 L473.7,448.78 L474.2,449.35 L474.7,449.36 L475.2,449.09 L475.7,448.60 L476.2,447.86 L476.7,446.89 L477.2,445.68 L477.7,444.24 L478.2,442.57 L478.7,440.67 L479.2,438.53 L479.7,436.17 L480.2,433.58" stroke="#0000ff"/>
<path d="M89.2,429.40 L89.7,429.40 L90.2,429.40 L90.7,429.40 L91.2,429.40 L91.7,429.40 L92.2,429.40 L92.7,429.40 L93.2,429.40 L93.7,429.40 L94.2,429.40 L94.7,429.40 L95.2,429.40 L95.7,429.40 L96.2,429.40 L96.7,429.40 L97.2,429.40 L97.7,429.41 L98.2,429.43 L98.7,429.46 L99.2,429.49 L99.7,429.54 L100.2,429.58 L100.7,429.64 L101.2,429.69 L101.7,429.75 L102.2,429.81 L102.7,429.87 L103.2,429.94 L103.7,429.99 L104.2,430.05 L104.7,430.11 L105.2,430.15 L105.7,430.20 L106.2,430.24 L106.7,430.27 L107.2,430.29 L107.7,430.30 L108.2,430.30 L108.7,430.29 L109.2,430.27 L109.7,430.23 L110.2,430.19 L110.7,430.14 L111.2,430.07 L111.7,430.00 L112.2,429.93 L112.7,429.84 L113.2,429.75 L113.7,429.66 L114.2,429.56 L114.7,429.46 L115.2,429.35 L115.7,429.24 L116.2,429.13 L116.7,429.02 L117.2,428.91 L117.7,428.79 L118.2,428.68 L118.7,428.57 L119.2,428.46 L119.7,428.36 L120.2,428.26 L120.7,428.16 L121.2,428.07 L121.7,427.99 L122.2,427.91 L122.7,427.84 L123.2,427.78 L123.7,427.72 L124.2,427.68 L124.7,427.64 L125.2,427.62 L125.7,427.60 L126.2,427.60 L126.7,427.62 L127.2,427.65 L127.7,427.69 L128.2,427.76 L128.7,427.83 L129.2,427.92 L129.7,428.02 L130.2,428.12 L130.7,428.24 L131.2,428.37 L131.7,428.51 L132.2,428.65 L132.7,428.80 L133.2,428.95 L133.7,429.11 L134.2,429.27 L134.7,429.44 L135.2,429.60 L135.7,429.77 L136.2,429.93 L136.7,430.10 L137.2,430.26 L137.7,430.42 L138.2,430.57 L138.7,430.72 L139.2,430.86 L139.7,431.00 L140.2,431.13 L140.7,431.25 L141.2,431.36 L141.7,431.46 L142.2,431.55 L142.7,431.63 L143.2,431.69 L143.7,431.74 L144.2,431.78 L144.7,431.80 L145.2,431.80 L145.7,431.77 L146.2,431.72 L146.7,431.64 L147.2,431.53 L147.7,431.40 L148.2,431.25 L148.7,431.08 L149.2,430.89 L149.7,430.68 L150.2,430.45 L150.7,430.22 L151.2,429.97 L151.7,429.71 L152.2,429.44 L152.7,429.16 L153.2,428.87 L153.7,428.59 L154.2,428.29 L154.7,428.00 L155.2,427.71 L155.7,427.41 L156.2,427.13 L156.7,426.84 L157.2,426.56 L157.7,426.29 L158.2,426.03 L158.7,425.78 L159.2,425.55 L159.7,425.32 L160.2,425.11 L160.7,424.92 L161.2,424.75 L161.7,424.60 L162.2,424.47 L162.7,424.36 L163.2,424.28 L163.7,424.23 L164.2,424.20 L164.7,424.21 L165.2,424.28 L165.7,424.41 L166.2,424.59 L166.7,424.82 L167.2,425.10 L167.7,425.43 L168.2,425.80 L168.7,426.20 L169.2,426.64 L169.7,427.11 L170.2,427.60 L170.7,428.12 L171.2,428.66 L171.7,429.21 L172.2,429.78 L172.7,430.35 L173.2,430.93 L173.7,431.52 L174.2,432.10 L174.7,432.67 L175.2,433.24 L175.7,433.79 L176.2,434.33 L176.7,434.85 L177.2,435.34 L177.7,435.81 L178.2,436.25 L178.7,436.65 L179.2,437.02 L179.7,437.35 L180.2,437.63 L180.7,437.86 L181.2,438.04 L181.7,438.17 L182.2,438.24 L182.7,438.24 L183.2,438.16 L183.7,437.99 L184.2,437.73 L184.7,437.40 L185.2,437.00 L185.7,436.53 L186.2,435.99 L186.7,435.40 L187.2,434.76 L187.7,434.07 L188.2,433.33 L188.7,432.56 L189.2,431.76 L189.7,430.93 L190.2,430.07 L190.7,429.21 L191.2,428.32 L191.7,427.44 L192.2,426.55 L192.7,425.66 L193.2,424.78 L193.7,423.92 L194.2,423.07 L194.7,422.25 L195.2,421.45 L195.7,420.69 L196.2,419.97 L196.7,419.29 L197.2,418.67 L197.7,418.09 L198.2,417.57 L198.7,417.12 L199.2,416.74 L199.7,416.43 L200.2,416.20 L200.7,416.06 L201.2,416.00 L201.7,416.05 L202.2,416.21 L202.7,416.49 L203.2,416.87 L203.7,417.35 L204.2,417.93 L204.7,418.59 L205.2,419.33 L205.7,420.14 L206.2,421.03 L206.7,421.97 L207.2,422.97 L207.7,424.02 L208.2,425.12 L208.7,426.25 L209.2,427.41 L209.7,428.60 L210.2,429.81 L210.7,431.03 L211.2,432.25 L211.7,433.48 L212.2,434.70 L212.7,435.91 L213.2,437.10 L213.7,438.27 L214.2,439.41 L214.7,440.51 L215.2,441.57 L215.7,442.58 L216.2,443.54 L216.7,444.44 L217.2,445.27 L217.7,446.02 L218.2,446.70 L218.7,447.29 L219.2,447.79 L219.7,448.19 L220.2,448.49 L220.7,448.68 L221.2,448.75 L221.7,448.66 L222.2,448.34 L222.7,447.81 L223.2,447.09 L223.7,446.19 L224.2,445.12 L224.7,443.89 L225.2,442.53 L225.7,441.04 L226.2,439.44 L226.7,437.74 L227.2,435.97 L227.7,434.12 L228.2,432.22 L228.7,430.28 L229.2,428.31 L229.7,426.33 L230.2,424.35 L230.7,422.39 L231.2,420.46 L231.7,418.57 L232.2,416.74 L232.7,414.99 L233.2,413.32 L233.7,411.75 L234.2,410.30 L234.7,408.98 L235.2,407.80 L235.7,406.77 L236.2,405.92 L236.7,405.26 L237.2,404.79 L237.7,404.54 L238.2,404.51 L238.7,404.67 L239.2,405.00 L239.7,405.49 L240.2,406.13 L240.7,406.91 L241.2,407.83 L241.7,408.87 L242.2,410.04 L242.7,411.31 L243.2,412.69 L243.7,414.16 L244.2,415.71 L244.7,417.34 L245.2,419.04 L245.7,420.80 L246.2,422.62 L246.7,424.47 L247.2,426.36 L247.7,428.28 L248.2,430.21 L248.7,432.16 L249.2,434.11 L249.7,436.05 L250.2,437.97 L250.7,439.88 L251.2,441.75 L251.7,443.58 L252.2,445.36 L252.7,447.08 L253.2,448.74 L253.7,450.33 L254.2,451.83 L254.7,453.25 L255.2,454.56 L255.7,455.77 L256.2,456.87 L256.7,457.84 L257.2,458.68 L257.7,459.37 L258.2,459.92 L258.7,460.32 L259.2,460.54 L259.7,460.59 L260.2,460.30 L260.7,459.61 L261.2,458.56 L261.7,457.17 L262.2,455.47 L262.7,453.49 L263.2,451.24 L263.7,448.78 L264.2,446.11 L264.7,443.27 L265.2,440.28 L265.7,437.18 L266.2,433.99 L266.7,430.74 L267.2,427.46 L267.7,424.17 L268.2,420.90 L268.7,417.68 L269.2,414.54 L269.7,411.51 L270.2,408.61 L270.7,405.87 L271.2,403.32 L271.7,400.98 L272.2,398.89 L272.7,397.07 L273.2,395.55 L273.7,394.36 L274.2,393.53 L274.7,393.08 L275.2,393.08 L275.7,393.91 L276.2,395.48 L276.7,397.58 L277.2,400.02 L277.7,402.58 L278.2,405.08 L278.7,407.30 L279.2,409.32 L279.7,411.41 L280.2,413.49 L280.7,415.49 L281.2,417.33 L281.7,419.01 L282.2,420.61 L282.7,422.06 L283.2,423.34 L283.7,424.47 L284.2,425.50 L284.7,426.46 L285.2,427.38 L285.7,428.28 L286.2,429.12 L286.7,429.91 L287.2,430.73 L287.7,431.61 L288.2,432.50 L288.7,433.42 L289.2,434.41 L289.7,435.52 L290.2,436.79 L290.7,438.35 L291.2,440.13 L291.7,442.02 L292.2,443.91 L292.7,445.72 L293.2,447.55 L293.7,449.42 L294.2,451.25 L294.7,453.01 L295.2,454.67 L295.7,456.48 L296.2,458.40 L296.7,460.28 L297.2,462.00 L297.7,463.42 L298.2,464.39 L298.7,464.80 L299.2,464.54 L299.7,463.66 L300.2,462.23 L300.7,460.27 L301.2,457.85 L301.7,455.01 L302.2,451.81 L302.7,448.29 L303.2,444.50 L303.7,440.50 L304.2,436.32 L304.7,432.04 L305.2,427.68 L305.7,423.31 L306.2,418.97 L306.7,414.71 L307.2,410.58 L307.7,406.64 L308.2,402.93 L308.7,399.50 L309.2,396.40 L309.7,393.68 L310.2,391.39 L310.7,389.59 L311.2,388.31 L311.7,387.62 L312.2,387.55 L312.7,388.04 L313.2,389.03 L313.7,390.47 L314.2,392.31 L314.7,394.49 L315.2,396.96 L315.7,399.68 L316.2,402.58 L316.7,405.62 L317.2,408.73 L317.7,411.89 L318.2,415.02 L318.7,418.07 L319.2,421.01 L319.7,423.76 L320.2,426.29 L320.7,428.53 L321.2,430.44 L321.7,431.96 L322.2,433.05 L322.7,433.65 L323.2,433.74 L323.7,433.62 L324.2,433.38 L324.7,433.07 L325.2,432.69 L325.7,432.27 L326.2,431.85 L326.7,431.44 L327.2,431.08 L327.7,430.79 L328.2,430.58 L328.7,430.50 L329.2,430.71 L329.7,431.41 L330.2,432.53 L330.7,434.02 L331.2,435.83 L331.7,437.89 L332.2,440.14 L332.7,442.53 L333.2,445.00 L333.7,447.49 L334.2,449.95 L334.7,452.30 L335.2,454.50 L335.7,456.49 L336.2,458.21 L336.7,459.60 L337.2,460.60 L337.7,461.16 L338.2,461.19 L338.7,460.57 L339.2,459.31 L339.7,457.47 L340.2,455.12 L340.7,452.31 L341.2,449.10 L341.7,445.56 L342.2,441.74 L342.7,437.70 L343.2,433.51 L343.7,429.22 L344.2,424.89 L344.7,420.59 L345.2,416.38 L345.7,412.30 L346.2,408.43 L346.7,404.83 L347.2,401.55 L347.7,398.66 L348.2,396.21 L348.7,394.26 L349.2,392.88 L349.7,392.13 L350.2,392.05 L350.7,392.64 L351.2,393.81 L351.7,395.51 L352.2,397.67 L352.7,400.22 L353.2,403.10 L353.7,406.25 L354.2,409.60 L354.7,413.09 L355.2,416.64 L355.7,420.21 L356.2,423.71 L356.7,427.09 L357.2,430.29 L357.7,433.23 L358.2,435.85 L358.7,438.10 L359.2,439.89 L359.7,441.17 L360.2,441.88 L360.7,441.95 L361.2,441.42 L361.7,440.38 L362.2,438.92 L362.7,437.14 L363.2,435.12 L363.7,432.96 L364.2,430.74 L364.7,428.55 L365.2,426.50 L365.7,424.66 L366.2,423.13 L366.7,422.00 L367.2,421.36 L367.7,421.29 L368.2,421.76 L368.7,422.71 L369.2,424.06 L369.7,425.77 L370.2,427.78 L370.7,430.03 L371.2,432.45 L371.7,435.00 L372.2,437.61 L372.7,440.23 L373.2,442.80 L373.7,445.25 L374.2,447.54 L374.7,449.60 L375.2,451.37 L375.7,452.80 L376.2,453.83 L376.7,454.40 L377.2,454.44 L377.7,453.84 L378.2,452.61 L378.7,450.84 L379.2,448.58 L379.7,445.91 L380.2,442.88 L380.7,439.56 L381.2,436.02 L381.7,432.32 L382.2,428.53 L382.7,424.71 L383.2,420.93 L383.7,417.26 L384.2,413.76 L384.7,410.49 L385.2,407.53 L385.7,404.93 L386.2,402.76 L386.7,401.10 L387.2,399.99 L387.7,399.51 L388.2,399.73 L388.7,400.65 L389.2,402.18 L389.7,404.24 L390.2,406.77 L390.7,409.69 L391.2,412.91 L391.7,416.36 L392.2,419.97 L392.7,423.65 L393.2,427.33 L393.7,430.94 L394.2,434.39 L394.7,437.61 L395.2,440.53 L395.7,443.06 L396.2,445.12 L396.7,446.65 L397.2,447.57 L397.7,447.79 L398.2,447.35 L398.7,446.36 L399.2,444.88 L399.7,442.99 L400.2,440.75 L400.7,438.24 L401.2,435.54 L401.7,432.71 L402.2,429.84 L402.7,426.98 L403.2,424.22 L403.7,421.63 L404.2,419.27 L404.7,417.23 L405.2,415.58 L405.7,414.38 L406.2,413.71 L406.7,413.64 L407.2,414.10 L407.7,415.01 L408.2,416.33 L408.7,418.00 L409.2,419.97 L409.7,422.19 L410.2,424.61 L410.7,427.18 L411.2,429.84 L411.7,432.54 L412.2,435.23 L412.7,437.86 L413.2,440.37 L413.7,442.72 L414.2,444.85 L414.7,446.71 L415.2,448.25 L415.7,449.41 L416.2,450.14 L416.7,450.40 L417.2,450.02 L417.7,448.94 L418.2,447.25 L418.7,445.03 L419.2,442.36 L419.7,439.32 L420.2,436.01 L420.7,432.51 L421.2,428.89 L421.7,425.25 L422.2,421.67 L422.7,418.23 L423.2,415.02 L423.7,412.13 L424.2,409.62 L424.7,407.60 L425.2,406.15 L425.7,405.34 L426.2,405.25 L426.7,405.84 L427.2,407.01 L427.7,408.70 L428.2,410.83 L428.7,413.34 L429.2,416.16 L429.7,419.22 L430.2,422.44 L430.7,425.76 L431.2,429.11 L431.7,432.42 L432.2,435.61 L432.7,438.62 L433.2,441.39 L433.7,443.83 L434.2,445.88 L434.7,447.47 L435.2,448.53 L435.7,448.99 L436.2,448.80 L436.7,448.04 L437.2,446.75 L437.7,445.02 L438.2,442.91 L438.7,440.47 L439.2,437.79 L439.7,434.92 L440.2,431.93 L440.7,428.89 L441.2,425.86 L441.7,422.91 L442.2,420.11 L442.7,417.52 L443.2,415.21 L443.7,413.24 L444.2,411.68 L444.7,410.59 L445.2,410.05 L445.7,410.11 L446.2,410.78 L446.7,411.97 L447.2,413.64 L447.7,415.70 L448.2,418.10 L448.7,420.77 L449.2,423.63 L449.7,426.63 L450.2,429.70 L450.7,432.77 L451.2,435.77 L451.7,438.63 L452.2,441.30 L452.7,443.70 L453.2,445.76 L453.7,447.43 L454.2,448.62 L454.7,449.29 L455.2,449.35 L455.7,448.79 L456.2,447.68 L456.7,446.07 L457.2,444.04 L457.7,441.65 L458.2,438.97 L458.7,436.06 L459.2,432.99 L459.7,429.83 L460.2,426.64 L460.7,423.49 L461.2,420.45 L461.7,417.58 L462.2,414.95 L462.7,412.62 L463.2,410.67 L463.7,409.16 L464.2,408.15 L464.7,407.71 L465.2,407.91 L465.7,408.73 L466.2,410.10 L466.7,411.95 L467.2,414.22 L467.7,416.82 L468.2,419.69 L468.7,422.75 L469.2,425.95 L469.7,429.20 L470.2,432.44 L470.7,435.59 L471.2,438.59 L471.7,441.36 L472.2,443.83 L472.7,445.94 L473.2,447.61 L473.7,448.77 L474.2,449.35 L474.7,449.36 L475.2,449.12 L475.7,448.67 L476.2,448.00 L476.7,447.11 L477.2,446.00 L477.7,444.68 L478.2,443.13 L478.7,441.37 L479.2,439.38 L479.7,437.17 L480.2,434.75" stroke="#14c814"/>
<path d="M89.2,527.10 L89.7,527.10 L90.2,527.10 L90.7,527.10 L91.2,527.10 L91.7,527.11 L92.2,527.11 L92.7,527.11 L93.2,527.12 L93.7,527.12 L94.2,527.13 L94.7,527.13 L95.2,527.14 L95.7,527.14 L96.2,527.15 L96.7,527.15 L97.2,527.16 L97.7,527.17 L98.2,527.17 L98.7,527.18 L99.2,527.19 L99.7,527.20 L100.2,527.20 L100.7,527.22 L101.2,527.23 L101.7,527.25 L102.2,527.28 L102.7,527.31 L103.2,527.34 L103.7,527.37 L104.2,527.41 L104.7,527.45 L105.2,527.49 L105.7,527.53 L106.2,527.58 L106.7,527.62 L107.2,527.67 L107.7,527.72 L108.2,527.76 L108.7,527.81 L109.2,527.86 L109.7,527.90 L110.2,527.94 L110.7,527.99 L111.2,528.03 L111.7,528.06 L112.2,528.10 L112.7,528.13 L113.2,528.16 L113.7,528.19 L114.2,528.21 L114.7,528.23 L115.2,528.24 L115.7,528.25 L116.2,528.25 L116.7,528.25 L117.2,528.23 L117.7,528.20 L118.2,528.17 L118.7,528.12 L119.2,528.07 L119.7,528.00 L120.2,527.94 L120.7,527.86 L121.2,527.78 L121.7,527.69 L122.2,527.59 L122.7,527.50 L123.2,527.40 L123.7,527.29 L124.2,527.19 L124.7,527.08 L125.2,526.97 L125.7,526.86 L126.2,526.75 L126.7,526.64 L127.2,526.53 L127.7,526.43 L128.2,526.32 L128.7,526.22 L129.2,526.13 L129.7,526.03 L130.2,525.95 L130.7,525.87 L131.2,525.79 L131.7,525.73 L132.2,525.67 L132.7,525.61 L133.2,525.57 L133.7,525.54 L134.2,525.51 L134.7,525.50 L135.2,525.50 L135.7,525.52 L136.2,525.56 L136.7,525.62 L137.2,525.69 L137.7,525.78 L138.2,525.89 L138.7,526.01 L139.2,526.14 L139.7,526.29 L140.2,526.44 L140.7,526.61 L141.2,526.78 L141.7,526.96 L142.2,527.15 L142.7,527.34 L143.2,527.53 L143.7,527.73 L144.2,527.93 L144.7,528.13 L145.2,528.33 L145.7,528.53 L146.2,528.72 L146.7,528.91 L147.2,529.10 L147.7,529.27 L148.2,529.45 L148.7,529.61 L149.2,529.76 L149.7,529.90 L150.2,530.03 L150.7,530.15 L151.2,530.25 L151.7,530.33 L152.2,530.40 L152.7,530.45 L153.2,530.49 L153.7,530.50 L154.2,530.48 L154.7,530.43 L155.2,530.34 L155.7,530.22 L156.2,530.07 L156.7,529.89 L157.2,529.68 L157.7,529.44 L158.2,529.18 L158.7,528.91 L159.2,528.61 L159.7,528.30 L160.2,527.97 L160.7,527.63 L161.2,527.28 L161.7,526.92 L162.2,526.56 L162.7,526.19 L163.2,525.82 L163.7,525.45 L164.2,525.08 L164.7,524.72 L165.2,524.36 L165.7,524.02 L166.2,523.68 L166.7,523.36 L167.2,523.05 L167.7,522.76 L168.2,522.49 L168.7,522.24 L169.2,522.01 L169.7,521.81 L170.2,521.63 L170.7,521.49 L171.2,521.38 L171.7,521.30 L172.2,521.26 L172.7,521.25 L173.2,521.31 L173.7,521.42 L174.2,521.59 L174.7,521.81 L175.2,522.08 L175.7,522.40 L176.2,522.75 L176.7,523.15 L177.2,523.58 L177.7,524.05 L178.2,524.54 L178.7,525.06 L179.2,525.60 L179.7,526.17 L180.2,526.75 L180.7,527.34 L181.2,527.94 L181.7,528.55 L182.2,529.16 L182.7,529.78 L183.2,530.39 L183.7,530.99 L184.2,531.59 L184.7,532.17 L185.2,532.73 L185.7,533.28 L186.2,533.81 L186.7,534.31 L187.2,534.78 L187.7,535.22 L188.2,535.62 L188.7,535.98 L189.2,536.31 L189.7,536.59 L190.2,536.82 L190.7,537.00 L191.2,537.12 L191.7,537.19 L192.2,537.19 L192.7,537.10 L193.2,536.90 L193.7,536.61 L194.2,536.24 L194.7,535.78 L195.2,535.24 L195.7,534.63 L196.2,533.96 L196.7,533.23 L197.2,532.44 L197.7,531.61 L198.2,530.74 L198.7,529.83 L199.2,528.89 L199.7,527.93 L200.2,526.94 L200.7,525.95 L201.2,524.95 L201.7,523.95 L202.2,522.95 L202.7,521.97 L203.2,521.00 L203.7,520.06 L204.2,519.14 L204.7,518.26 L205.2,517.42 L205.7,516.63 L206.2,515.88 L206.7,515.20 L207.2,514.58 L207.7,514.03 L208.2,513.55 L208.7,513.16 L209.2,512.85 L209.7,512.63 L210.2,512.52 L210.7,512.51 L211.2,512.62 L211.7,512.86 L212.2,513.21 L212.7,513.66 L213.2,514.21 L213.7,514.86 L214.2,515.59 L214.7,516.41 L215.2,517.29 L215.7,518.24 L216.2,519.25 L216.7,520.31 L217.2,521.42 L217.7,522.56 L218.2,523.74 L218.7,524.94 L219.2,526.16 L219.7,527.39 L220.2,528.62 L220.7,529.85 L221.2,531.07 L221.7,532.27 L222.2,533.46 L222.7,534.61 L223.2,535.72 L223.7,536.79 L224.2,537.81 L224.7,538.77 L225.2,539.67 L225.7,540.50 L226.2,541.25 L226.7,541.91 L227.2,542.49 L227.7,542.96 L228.2,543.33 L228.7,543.59 L229.2,543.73 L229.7,543.74 L230.2,543.57 L230.7,543.24 L231.2,542.74 L231.7,542.09 L232.2,541.30 L232.7,540.38 L233.2,539.33 L233.7,538.18 L234.2,536.91 L234.7,535.56 L235.2,534.12 L235.7,532.61 L236.2,531.04 L236.7,529.41 L237.2,527.74 L237.7,526.04 L238.2,524.31 L238.7,522.57 L239.2,520.83 L239.7,519.09 L240.2,517.37 L240.7,515.67 L241.2,514.01 L241.7,512.39 L242.2,510.83 L242.7,509.33 L243.2,507.91 L243.7,506.58 L244.2,505.33 L244.7,504.20 L245.2,503.18 L245.7,502.28 L246.2,501.52 L246.7,500.90 L247.2,500.43 L247.7,500.13 L248.2,500.00 L248.7,500.10 L249.2,500.51 L249.7,501.20 L250.2,502.16 L250.7,503.36 L251.2,504.78 L251.7,506.40 L252.2,508.19 L252.7,510.14 L253.2,512.22 L253.7,514.41 L254.2,516.68 L254.7,519.02 L255.2,521.39 L255.7,523.79 L256.2,526.18 L256.7,528.55 L257.2,530.87 L257.7,533.12 L258.2,535.28 L258.7,537.32 L259.2,539.22 L259.7,540.97 L260.2,542.53 L260.7,543.89 L261.2,545.02 L261.7,545.90 L262.2,546.51 L262.7,546.92 L263.2,547.32 L263.7,547.68 L264.2,548.00 L264.7,548.25 L265.2,548.42 L265.7,548.50 L266.2,548.49 L266.7,548.43 L267.2,548.34 L267.7,548.21 L268.2,548.06 L268.7,547.88 L269.2,547.68 L269.7,547.47 L270.2,547.25 L270.7,546.92 L271.2,546.32 L271.7,545.45 L272.2,544.34 L272.7,543.00 L273.2,541.45 L273.7,539.72 L274.2,537.81 L274.7,535.76 L275.2,533.57 L275.7,531.27 L276.2,528.88 L276.7,526.41 L277.2,523.89 L277.7,521.32 L278.2,518.75 L278.7,516.17 L279.2,513.61 L279.7,511.10 L280.2,508.64 L280.7,506.26 L281.2,503.98 L281.7,501.81 L282.2,499.77 L282.7,497.89 L283.2,496.18 L283.7,494.67 L284.2,493.36 L284.7,492.29 L285.2,491.46 L285.7,490.90 L286.2,490.62 L286.7,490.69 L287.2,491.21 L287.7,492.17 L288.2,493.52 L288.7,495.24 L289.2,497.28 L289.7,499.60 L290.2,502.17 L290.7,504.95 L291.2,507.91 L291.7,511.00 L292.2,514.19 L292.7,517.44 L293.2,520.71 L293.7,523.96 L294.2,527.17 L294.7,530.28 L295.2,533.27 L295.7,536.09 L296.2,538.70 L296.7,541.08 L297.2,543.18 L297.7,544.96 L298.2,546.39 L298.7,547.43 L299.2,548.04 L299.7,548.20 L300.2,548.08 L300.7,547.82 L301.2,547.44 L301.7,546.96 L302.2,546.41 L302.7,545.81 L303.2,545.19 L303.7,544.57 L304.2,543.98 L304.7,543.44 L305.2,542.98 L305.7,542.62 L306.2,542.38 L306.7,542.30 L307.2,542.35 L307.7,542.49 L308.2,542.69 L308.7,542.94 L309.2,543.20 L309.7,543.46 L310.2,543.69 L310.7,543.87 L311.2,543.98 L311.7,543.97 L312.2,543.58 L312.7,542.81 L313.2,541.67 L313.7,540.20 L314.2,538.44 L314.7,536.41 L315.2,534.15 L315.7,531.69 L316.2,529.06 L316.7,526.30 L317.2,523.44 L317.7,520.51 L318.2,517.55 L318.7,514.58 L319.2,511.64 L319.7,508.76 L320.2,505.98 L320.7,503.33 L321.2,500.83 L321.7,498.53 L322.2,496.45 L322.7,494.63 L323.2,493.10 L323.7,491.89 L324.2,491.04 L324.7,490.58 L325.2,490.55 L325.7,491.09 L326.2,492.18 L326.7,493.78 L327.2,495.82 L327.7,498.25 L328.2,501.02 L328.7,504.07 L329.2,507.36 L329.7,510.83 L330.2,514.42 L330.7,518.09 L331.2,521.77 L331.7,525.42 L332.2,528.98 L332.7,532.40 L333.2,535.62 L333.7,538.60 L334.2,541.27 L334.7,543.59 L335.2,545.50 L335.7,546.95 L336.2,547.88 L336.7,548.25 L337.2,548.10 L337.7,547.63 L338.2,546.86 L338.7,545.85 L339.2,544.64 L339.7,543.28 L340.2,541.82 L340.7,540.29 L341.2,538.75 L341.7,537.23 L342.2,535.80 L342.7,534.48 L343.2,533.32 L343.7,532.38 L344.2,531.70 L344.7,531.32 L345.2,531.28 L345.7,531.55 L346.2,532.09 L346.7,532.84 L347.2,533.77 L347.7,534.81 L348.2,535.94 L348.7,537.09 L349.2,538.22 L349.7,539.28 L350.2,540.23 L350.7,541.03 L351.2,541.61 L351.7,541.94 L352.2,541.96 L352.7,541.49 L353.2,540.54 L353.7,539.17 L354.2,537.42 L354.7,535.35 L355.2,533.00 L355.7,530.41 L356.2,527.65 L356.7,524.77 L357.2,521.80 L357.7,518.80 L358.2,515.82 L358.7,512.91 L359.2,510.12 L359.7,507.50 L360.2,505.10 L360.7,502.97 L361.2,501.15 L361.7,499.70 L362.2,498.66 L362.7,498.10 L363.2,498.04 L363.7,498.53 L364.2,499.50 L364.7,500.93 L365.2,502.74 L365.7,504.90 L366.2,507.37 L366.7,510.07 L367.2,512.98 L367.7,516.05 L368.2,519.21 L368.7,522.43 L369.2,525.65 L369.7,528.83 L370.2,531.91 L370.7,534.86 L371.2,537.61 L371.7,540.13 L372.2,542.35 L372.7,544.24 L373.2,545.75 L373.7,546.81 L374.2,547.40 L374.7,547.46 L375.2,546.97 L375.7,546.01 L376.2,544.64 L376.7,542.93 L377.2,540.94 L377.7,538.74 L378.2,536.40 L378.7,533.99 L379.2,531.57 L379.7,529.22 L380.2,526.99 L380.7,524.95 L381.2,523.18 L381.7,521.73 L382.2,520.68 L382.7,520.10 L383.2,520.03 L383.7,520.38 L384.2,521.07 L384.7,522.06 L385.2,523.30 L385.7,524.75 L386.2,526.37 L386.7,528.10 L387.2,529.90 L387.7,531.73 L388.2,533.55 L388.7,535.30 L389.2,536.94 L389.7,538.42 L390.2,539.71 L390.7,540.76 L391.2,541.51 L391.7,541.93 L392.2,541.96 L392.7,541.48 L393.2,540.54 L393.7,539.17 L394.2,537.44 L394.7,535.40 L395.2,533.11 L395.7,530.61 L396.2,527.98 L396.7,525.25 L397.2,522.50 L397.7,519.76 L398.2,517.10 L398.7,514.58 L399.2,512.24 L399.7,510.14 L400.2,508.35 L400.7,506.90 L401.2,505.87 L401.7,505.30 L402.2,505.25 L402.7,505.77 L403.2,506.81 L403.7,508.31 L404.2,510.22 L404.7,512.46 L405.2,514.99 L405.7,517.73 L406.2,520.63 L406.7,523.63 L407.2,526.66 L407.7,529.67 L408.2,532.60 L408.7,535.38 L409.2,537.95 L409.7,540.26 L410.2,542.24 L410.7,543.82 L411.2,544.96 L411.7,545.59 L412.2,545.66 L412.7,545.22 L413.2,544.34 L413.7,543.08 L414.2,541.48 L414.7,539.60 L415.2,537.50 L415.7,535.22 L416.2,532.82 L416.7,530.35 L417.2,527.86 L417.7,525.41 L418.2,523.05 L418.7,520.83 L419.2,518.81 L419.7,517.04 L420.2,515.57 L420.7,514.46 L421.2,513.75 L421.7,513.50 L422.2,513.75 L422.7,514.46 L423.2,515.58 L423.7,517.04 L424.2,518.80 L424.7,520.80 L425.2,522.99 L425.7,525.30 L426.2,527.68 L426.7,530.08 L427.2,532.44 L427.7,534.71 L428.2,536.82 L428.7,538.73 L429.2,540.38 L429.7,541.72 L430.2,542.68 L430.7,543.21 L431.2,543.26 L431.7,542.81 L432.2,541.90 L432.7,540.59 L433.2,538.94 L433.7,537.00 L434.2,534.82 L434.7,532.45 L435.2,529.96 L435.7,527.39 L436.2,524.80 L436.7,522.24 L437.2,519.76 L437.7,517.43 L438.2,515.29 L438.7,513.40 L439.2,511.82 L439.7,510.59 L440.2,509.77 L440.7,509.41 L441.2,509.58 L441.7,510.28 L442.2,511.44 L442.7,513.01 L443.2,514.93 L443.7,517.14 L444.2,519.58 L444.7,522.18 L445.2,524.89 L445.7,527.65 L446.2,530.40 L446.7,533.08 L447.2,535.62 L447.7,537.97 L448.2,540.07 L448.7,541.86 L449.2,543.28 L449.7,544.26 L450.2,544.75 L450.7,544.71 L451.2,544.18 L451.7,543.22 L452.2,541.88 L452.7,540.21 L453.2,538.28 L453.7,536.12 L454.2,533.80 L454.7,531.36 L455.2,528.85 L455.7,526.34 L456.2,523.87 L456.7,521.49 L457.2,519.26 L457.7,517.23 L458.2,515.45 L458.7,513.98 L459.2,512.86 L459.7,512.15 L460.2,511.90 L460.7,512.14 L461.2,512.83 L461.7,513.91 L462.2,515.34 L462.7,517.06 L463.2,519.03 L463.7,521.19 L464.2,523.49 L464.7,525.88 L465.2,528.31 L465.7,530.74 L466.2,533.10 L466.7,535.35 L467.2,537.44 L467.7,539.31 L468.2,540.92 L468.7,542.22 L469.2,543.15 L469.7,543.66 L470.2,543.71 L470.7,543.24 L471.2,542.32 L471.7,540.98 L472.2,539.30 L472.7,537.32 L473.2,535.10 L473.7,532.71 L474.2,530.19 L474.7,527.60 L475.2,525.00 L475.7,522.44 L476.2,519.99 L476.7,517.69 L477.2,515.61 L477.7,513.80 L478.2,512.32 L478.7,511.22 L479.2,510.57 L479.7,510.40 L480.2,510.54" stroke="#0000ff"/>
<path d="M89.2,527.10 L89.7,527.10 L90.2,527.10 L90.7,527.10 L91.2,527.10 L91.7,527.11 L92.2,527.11 L92.7,527.11 L93.2,527.12 L93.7,527.12 L94.2,527.13 L94.7,527.13 L95.2,527.14 L95.7,527.14 L96.2,527.15 L96.7,527.15 L97.2,527.16 L97.7,527.17 L98.2,527.17 L98.7,527.18 L99.2,527.19 L99.7,527.20 L100.2,527.20 L100.7,527.22 L101.2,527.23 L101.7,527.25 L102.2,527.28 L102.7,527.31 L103.2,527.34 L103.7,527.37 L104.2,527.41 L104.7,527.45 L105.2,527.49 L105.7,527.53 L106.2,527.58 L106.7,527.62 L107.2,527.67 L107.7,527.72 L108.2,527.76 L108.7,527.81 L109.2,527.86 L109.7,527.90 L110.2,527.94 L110.7,527.99 L111.2,528.03 L111.7,528.06 L112.2,528.10 L112.7,528.13 L113.2,528.16 L113.7,528.19 L114.2,528.21 L114.7,528.23 L115.2,528.24 L115.7,528.25 L116.2,528.25 L116.7,528.25 L117.2,528.23 L117.7,528.20 L118.2,528.17 L118.7,528.12 L119.2,528.07 L119.7,528.00 L120.2,527.94 L120.7,527.86 L121.2,527.78 L121.7,527.69 L122.2,527.59 L122.7,527.50 L123.2,527.40 L123.7,527.29 L124.2,527.19 L124.7,527.08 L125.2,526.97 L125.7,526.86 L126.2,526.75 L126.7,526.64 L127.2,526.53 L127.7,526.43 L128.2,526.32 L128.7,526.22 L129.2,526.13 L129.7,526.03 L130.2,525.95 L130.7,525.87 L131.2,525.79 L131.7,525.73 L132.2,525.67 L132.7,525.61 L133.2,525.57 L133.7,525.54 L134.2,525.51 L134.7,525.50 L135.2,525.50 L135.7,525.52 L136.2,525.56 L136.7,525.62 L137.2,525.69 L137.7,525.78 L138.2,525.89 L138.7,526.01 L139.2,526.14 L139.7,526.29 L140.2,526.44 L140.7,526.61 L141.2,526.78 L141.7,526.96 L142.2,527.15 L142.7,527.34 L143.2,527.53 L143.7,527.73 L144.2,527.93 L144.7,528.13 L145.2,528.33 L145.7,528.53 L146.2,528.72 L146.7,528.91 L147.2,529.10 L147.7,529.27 L148.2,529.45 L148.7,529.61 L149.2,529.76 L149.7,529.90 L150.2,530.03 L150.7,530.15 L151.2,530.25 L151.7,530.33 L152.2,530.40 L152.7,530.45 L153.2,530.49 L153.7,530.50 L154.2,530.48 L154.7,530.43 L155.2,530.34 L155.7,530.22 L156.2,530.07 L156.7,529.89 L157.2,529.68 L157.7,529.44 L158.2,529.18 L158.7,528.91 L159.2,528.61 L159.7,528.30 L160.2,527.97 L160.7,527.63 L161.2,527.28 L161.7,526.92 L162.2,526.56 L162.7,526.19 L163.2,525.82 L163.7,525.45 L164.2,525.08 L164.7,524.72 L165.2,524.36 L165.7,524.02 L166.2,523.68 L166.7,523.36 L167.2,523.05 L167.7,522.76 L168.2,522.49 L168.7,522.24 L169.2,522.01 L169.7,521.81 L170.2,521.63 L170.7,521.49 L171.2,521.38 L171.7,521.30 L172.2,521.26 L172.7,521.25 L173.2,521.31 L173.7,521.42 L174.2,521.58 L174.7,521.79 L175.2,522.05 L175.7,522.35 L176.2,522.69 L176.7,523.07 L177.2,523.48 L177.7,523.92 L178.2,524.40 L178.7,524.89 L179.2,525.41 L179.7,525.95 L180.2,526.51 L180.7,527.07 L181.2,527.65 L181.7,528.23 L182.2,528.82 L182.7,529.40 L183.2,529.99 L183.7,530.56 L184.2,531.13 L184.7,531.69 L185.2,532.23 L185.7,532.75 L186.2,533.26 L186.7,533.73 L187.2,534.18 L187.7,534.60 L188.2,534.99 L188.7,535.34 L189.2,535.65 L189.7,535.91 L190.2,536.13 L190.7,536.31 L191.2,536.43 L191.7,536.49 L192.2,536.49 L192.7,536.41 L193.2,536.23 L193.7,535.98 L194.2,535.64 L194.7,535.23 L195.2,534.75 L195.7,534.21 L196.2,533.61 L196.7,532.96 L197.2,532.26 L197.7,531.52 L198.2,530.74 L198.7,529.93 L199.2,529.10 L199.7,528.24 L200.2,527.36 L200.7,526.48 L201.2,525.59 L201.7,524.70 L202.2,523.81 L202.7,522.93 L203.2,522.07 L203.7,521.23 L204.2,520.42 L204.7,519.63 L205.2,518.88 L205.7,518.17 L206.2,517.51 L206.7,516.90 L207.2,516.35 L207.7,515.86 L208.2,515.44 L208.7,515.08 L209.2,514.81 L209.7,514.62 L210.2,514.52 L210.7,514.51 L211.2,514.63 L211.7,514.88 L212.2,515.26 L212.7,515.74 L213.2,516.34 L213.7,517.03 L214.2,517.82 L214.7,518.69 L215.2,519.64 L215.7,520.65 L216.2,521.74 L216.7,522.87 L217.2,524.06 L217.7,525.29 L218.2,526.55 L218.7,527.83 L219.2,529.14 L219.7,530.46 L220.2,531.78 L220.7,533.10 L221.2,534.41 L221.7,535.70 L222.2,536.96 L222.7,538.20 L223.2,539.39 L223.7,540.54 L224.2,541.63 L224.7,542.67 L225.2,543.63 L225.7,544.52 L226.2,545.32 L226.7,546.03 L227.2,546.65 L227.7,547.15 L228.2,547.55 L228.7,547.83 L229.2,547.98 L229.7,547.98 L230.2,547.75 L230.7,547.28 L231.2,546.60 L231.7,545.71 L232.2,544.63 L232.7,543.39 L233.2,542.00 L233.7,540.48 L234.2,538.85 L234.7,537.12 L235.2,535.32 L235.7,533.45 L236.2,531.54 L236.7,529.61 L237.2,527.68 L237.7,525.75 L238.2,523.86 L238.7,522.01 L239.2,520.23 L239.7,518.53 L240.2,516.94 L240.7,515.46 L241.2,514.12 L241.7,512.94 L242.2,511.93 L242.7,511.11 L243.2,510.50 L243.7,510.04 L244.2,509.59 L244.7,509.15 L245.2,508.75 L245.7,508.38 L246.2,508.06 L246.7,507.81 L247.2,507.62 L247.7,507.52 L248.2,507.51 L248.7,507.58 L249.2,507.72 L249.7,507.93 L250.2,508.20 L250.7,508.52 L251.2,508.88 L251.7,509.28 L252.2,509.70 L252.7,510.15 L253.2,510.60 L253.7,511.20 L254.2,512.09 L254.7,513.22 L255.2,514.60 L255.7,516.18 L256.2,517.95 L256.7,519.89 L257.2,521.97 L257.7,524.18 L258.2,526.49 L258.7,528.88 L259.2,531.32 L259.7,533.80 L260.2,536.29 L260.7,538.77 L261.2,541.22 L261.7,543.62 L262.2,545.94 L262.7,548.17 L263.2,550.27 L263.7,552.23 L264.2,554.03 L264.7,555.64 L265.2,557.05 L265.7,558.22 L266.2,559.14 L266.7,559.79 L267.2,560.14 L267.7,560.17 L268.2,559.82 L268.7,559.12 L269.2,558.08 L269.7,556.74 L270.2,555.12 L270.7,553.26 L271.2,551.18 L271.7,548.90 L272.2,546.46 L272.7,543.88 L273.2,541.20 L273.7,538.43 L274.2,535.61 L274.7,532.77 L275.2,529.92 L275.7,527.11 L276.2,524.36 L276.7,521.69 L277.2,519.14 L277.7,516.73 L278.2,514.49 L278.7,512.45 L279.2,510.63 L279.7,509.07 L280.2,507.79 L280.7,506.81 L281.2,506.18 L281.7,505.91 L282.2,505.95 L282.7,506.15 L283.2,506.44 L283.7,506.77 L284.2,507.10 L284.7,507.38 L285.2,507.56 L285.7,507.70 L286.2,507.81 L286.7,507.91 L287.2,508.01 L287.7,508.12 L288.2,508.27 L288.7,508.44 L289.2,508.64 L289.7,508.86 L290.2,509.12 L290.7,509.41 L291.2,509.73 L291.7,510.10 L292.2,510.51 L292.7,511.08 L293.2,512.03 L293.7,513.33 L294.2,514.95 L294.7,516.85 L295.2,519.01 L295.7,521.39 L296.2,523.95 L296.7,526.67 L297.2,529.51 L297.7,532.45 L298.2,535.44 L298.7,538.45 L299.2,541.46 L299.7,544.43 L300.2,547.33 L300.7,550.12 L301.2,552.78 L301.7,555.26 L302.2,557.54 L302.7,559.59 L303.2,561.37 L303.7,562.85 L304.2,564.00 L304.7,564.78 L305.2,565.16 L305.7,565.10 L306.2,564.54 L306.7,563.50 L307.2,562.03 L307.7,560.17 L308.2,557.96 L308.7,555.45 L309.2,552.68 L309.7,549.68 L310.2,546.51 L310.7,543.20 L311.2,539.80 L311.7,536.34 L312.2,532.88 L312.7,529.44 L313.2,526.08 L313.7,522.83 L314.2,519.74 L314.7,516.86 L315.2,514.21 L315.7,511.84 L316.2,509.81 L316.7,508.14 L317.2,506.88 L317.7,506.07 L318.2,505.75 L318.7,505.88 L319.2,506.30 L319.7,506.97 L320.2,507.84 L320.7,508.87 L321.2,510.00 L321.7,511.20 L322.2,512.41 L322.7,513.60 L323.2,514.70 L323.7,515.69 L324.2,516.50 L324.7,517.10 L325.2,517.44 L325.7,517.48 L326.2,517.32 L326.7,517.01 L327.2,516.57 L327.7,516.04 L328.2,515.44 L328.7,514.81 L329.2,514.18 L329.7,513.58 L330.2,513.03 L330.7,512.57 L331.2,512.23 L331.7,512.03 L332.2,512.04 L332.7,512.46 L333.2,513.31 L333.7,514.56 L334.2,516.15 L334.7,518.06 L335.2,520.24 L335.7,522.66 L336.2,525.26 L336.7,528.02 L337.2,530.90 L337.7,533.84 L338.2,536.82 L338.7,539.80 L339.2,542.73 L339.7,545.57 L340.2,548.29 L340.7,550.84 L341.2,553.19 L341.7,555.29 L342.2,557.11 L342.7,558.61 L343.2,559.74 L343.7,560.46 L344.2,560.75 L344.7,560.50 L345.2,559.66 L345.7,558.29 L346.2,556.45 L346.7,554.18 L347.2,551.56 L347.7,548.63 L348.2,545.45 L348.7,542.09 L349.2,538.59 L349.7,535.01 L350.2,531.41 L350.7,527.85 L351.2,524.39 L351.7,521.07 L352.2,517.96 L352.7,515.12 L353.2,512.60 L353.7,510.45 L354.2,508.75 L354.7,507.53 L355.2,506.86 L355.7,506.78 L356.2,507.09 L356.7,507.71 L357.2,508.61 L357.7,509.74 L358.2,511.07 L358.7,512.56 L359.2,514.16 L359.7,515.85 L360.2,517.58 L360.7,519.31 L361.2,521.01 L361.7,522.63 L362.2,524.14 L362.7,525.51 L363.2,526.68 L363.7,527.63 L364.2,528.31 L364.7,528.69 L365.2,528.71 L365.7,528.31 L366.2,527.52 L366.7,526.41 L367.2,525.06 L367.7,523.53 L368.2,521.89 L368.7,520.20 L369.2,518.54 L369.7,516.98 L370.2,515.59 L370.7,514.43 L371.2,513.57 L371.7,513.08 L372.2,513.04 L372.7,513.53 L373.2,514.49 L373.7,515.89 L374.2,517.67 L374.7,519.77 L375.2,522.14 L375.7,524.72 L376.2,527.46 L376.7,530.30 L377.2,533.19 L377.7,536.08 L378.2,538.90 L378.7,541.61 L379.2,544.15 L379.7,546.47 L380.2,548.51 L380.7,550.22 L381.2,551.54 L381.7,552.41 L382.2,552.79 L382.7,552.62 L383.2,551.90 L383.7,550.70 L384.2,549.06 L384.7,547.05 L385.2,544.71 L385.7,542.10 L386.2,539.28 L386.7,536.30 L387.2,533.22 L387.7,530.09 L388.2,526.96 L388.7,523.89 L389.2,520.94 L389.7,518.16 L390.2,515.60 L390.7,513.32 L391.2,511.38 L391.7,509.82 L392.2,508.71 L392.7,508.10 L393.2,508.04 L393.7,508.51 L394.2,509.43 L394.7,510.76 L395.2,512.43 L395.7,514.37 L396.2,516.54 L396.7,518.86 L397.2,521.28 L397.7,523.73 L398.2,526.16 L398.7,528.51 L399.2,530.71 L399.7,532.70 L400.2,534.43 L400.7,535.83 L401.2,536.84 L401.7,537.40 L402.2,537.47 L402.7,537.11 L403.2,536.38 L403.7,535.34 L404.2,534.03 L404.7,532.49 L405.2,530.77 L405.7,528.91 L406.2,526.95 L406.7,524.95 L407.2,522.94 L407.7,520.98 L408.2,519.09 L408.7,517.34 L409.2,515.76 L409.7,514.40 L410.2,513.30 L410.7,512.51 L411.2,512.07 L411.7,512.05 L412.2,512.59 L412.7,513.66 L413.2,515.20 L413.7,517.13 L414.2,519.39 L414.7,521.91 L415.2,524.62 L415.7,527.44 L416.2,530.31 L416.7,533.16 L417.2,535.92 L417.7,538.53 L418.2,540.90 L418.7,542.97 L419.2,544.68 L419.7,545.94 L420.2,546.70 L420.7,546.89 L421.2,546.54 L421.7,545.73 L422.2,544.51 L422.7,542.93 L423.2,541.04 L423.7,538.89 L424.2,536.53 L424.7,534.01 L425.2,531.38 L425.7,528.69 L426.2,525.99 L426.7,523.33 L427.2,520.76 L427.7,518.33 L428.2,516.09 L428.7,514.09 L429.2,512.38 L429.7,511.01 L430.2,510.03 L430.7,509.49 L431.2,509.44 L431.7,509.92 L432.2,510.86 L432.7,512.21 L433.2,513.92 L433.7,515.92 L434.2,518.16 L434.7,520.58 L435.2,523.11 L435.7,525.70 L436.2,528.29 L436.7,530.82 L437.2,533.24 L437.7,535.48 L438.2,537.48 L438.7,539.19 L439.2,540.54 L439.7,541.48 L440.2,541.96 L440.7,541.92 L441.2,541.43 L441.7,540.56 L442.2,539.33 L442.7,537.81 L443.2,536.03 L443.7,534.05 L444.2,531.91 L444.7,529.65 L445.2,527.34 L445.7,525.00 L446.2,522.69 L446.7,520.45 L447.2,518.34 L447.7,516.40 L448.2,514.67 L448.7,513.20 L449.2,512.04 L449.7,511.24 L450.2,510.84 L450.7,510.89 L451.2,511.44 L451.7,512.44 L452.2,513.82 L452.7,515.54 L453.2,517.54 L453.7,519.77 L454.2,522.17 L454.7,524.69 L455.2,527.28 L455.7,529.88 L456.2,532.43 L456.7,534.89 L457.2,537.19 L457.7,539.29 L458.2,541.13 L458.7,542.65 L459.2,543.81 L459.7,544.54 L460.2,544.80 L460.7,544.54 L461.2,543.79 L461.7,542.60 L462.2,541.04 L462.7,539.16 L463.2,537.01 L463.7,534.65 L464.2,532.14 L464.7,529.53 L465.2,526.87 L465.7,524.22 L466.2,521.64 L466.7,519.18 L467.2,516.90 L467.7,514.85 L468.2,513.09 L468.7,511.67 L469.2,510.66 L469.7,510.10 L470.2,510.04 L470.7,510.51 L471.2,511.45 L471.7,512.80 L472.2,514.51 L472.7,516.51 L473.2,518.75 L473.7,521.18 L474.2,523.73 L474.7,526.35 L475.2,528.98 L475.7,531.57 L476.2,534.05 L476.7,536.37 L477.2,538.48 L477.7,540.31 L478.2,541.81 L478.7,542.92 L479.2,543.58 L479.7,543.75 L480.2,543.61" stroke="#14c814"/>
</g>
<rect x="104.2" y="457.6" width="111" height="45.75" fill="#fff"/>
<rect x="105.55" y="457.6" width="109.9" height="45.75" fill="#fff" stroke="#333" stroke-width="1.15"/>
<line x1="110" y1="471" x2="145.5" y2="471" stroke="#0000ff" stroke-width="2"/>
<line x1="110" y1="492" x2="145.5" y2="492" stroke="#14c814" stroke-width="2"/>
<g opacity="0.999">
<text transform="translate(153.2,476.4) scale(1.05,1)" font-size="18" text-anchor="start"><tspan font-style="italic">i</tspan> : odd</text>
<text transform="translate(153.2,497.2) scale(1.05,1)" font-size="18" text-anchor="start"><tspan font-style="italic">i</tspan> : even</text>
<text transform="translate(84.2,257.2) scale(1.05,1)" font-size="18" text-anchor="end">0.44</text>
<text transform="translate(84.2,286.4) scale(1.05,1)" font-size="18" text-anchor="end">0.42</text>
<text transform="translate(84.2,315.5) scale(1.05,1)" font-size="18" text-anchor="end">0.40</text>
<text transform="translate(84.2,344.79999999999995) scale(1.05,1)" font-size="18" text-anchor="end">0.38</text>
<text transform="translate(84.2,374.29999999999995) scale(1.05,1)" font-size="18" text-anchor="end">0.36</text>
<text transform="translate(84.2,397.34999999999997) scale(1.05,1)" font-size="18" text-anchor="end">-0.18</text>
<text transform="translate(84.2,429.7) scale(1.05,1)" font-size="18" text-anchor="end">-0.20</text>
<text transform="translate(84.2,462.09999999999997) scale(1.05,1)" font-size="18" text-anchor="end">-0.22</text>
<text transform="translate(84.2,490.5) scale(1.05,1)" font-size="18" text-anchor="end">0.04</text>
<text transform="translate(84.2,512.3) scale(1.05,1)" font-size="18" text-anchor="end">0.02</text>
<text transform="translate(84.2,534.1) scale(1.05,1)" font-size="18" text-anchor="end">0.00</text>
<text transform="translate(84.2,555.9) scale(1.05,1)" font-size="18" text-anchor="end">-0.02</text>
<text transform="translate(84.2,577.6999999999999) scale(1.05,1)" font-size="18" text-anchor="end">-0.04</text>
<text transform="translate(88.8,597.5) scale(1.05,1)" font-size="18" text-anchor="middle">-15</text>
<text transform="translate(154.5,597.5) scale(1.05,1)" font-size="18" text-anchor="middle">-10</text>
<text transform="translate(220.2,597.5) scale(1.05,1)" font-size="18" text-anchor="middle">-5</text>
<text transform="translate(286.0,597.5) scale(1.05,1)" font-size="18" text-anchor="middle">0</text>
<text transform="translate(351.8,597.5) scale(1.05,1)" font-size="18" text-anchor="middle">5</text>
<text transform="translate(417.5,597.5) scale(1.05,1)" font-size="18" text-anchor="middle">10</text>
<text transform="translate(484.2,597.5) scale(1.05,1)" font-size="18" text-anchor="middle">15</text>
<text transform="translate(9.6,256.9) scale(1.05,1)" font-size="22.5" text-anchor="start">(b)</text>
<text transform="translate(29.6,318.9) scale(1.05,1)" font-size="25.5" text-anchor="start">δ</text>
<text transform="translate(39.1,447.9) rotate(-90) scale(1.05,1)" font-size="24" text-anchor="start">Re<tspan letter-spacing="-0.9">(<tspan font-style="italic">χ</tspan>)</tspan></text>
<text transform="translate(38.9,553.3) rotate(-90) scale(1.05,1)" font-size="24" text-anchor="start">Im<tspan letter-spacing="-0.9">(<tspan font-style="italic">χ</tspan>)</tspan></text>
<text transform="translate(313.6,609.2) scale(1.05,1)" font-size="21" text-anchor="start">τ</text>
<text transform="translate(99.8,349.4) scale(1.05,1)" font-size="22.5" text-anchor="start">A<tspan font-size="15" dy="5">p</tspan><tspan dy="-5"> = 1, ω</tspan><tspan font-size="15" dy="5">p</tspan><tspan dy="-5"> = 2.15</tspan></text>
</g>
</svg></body></html>
